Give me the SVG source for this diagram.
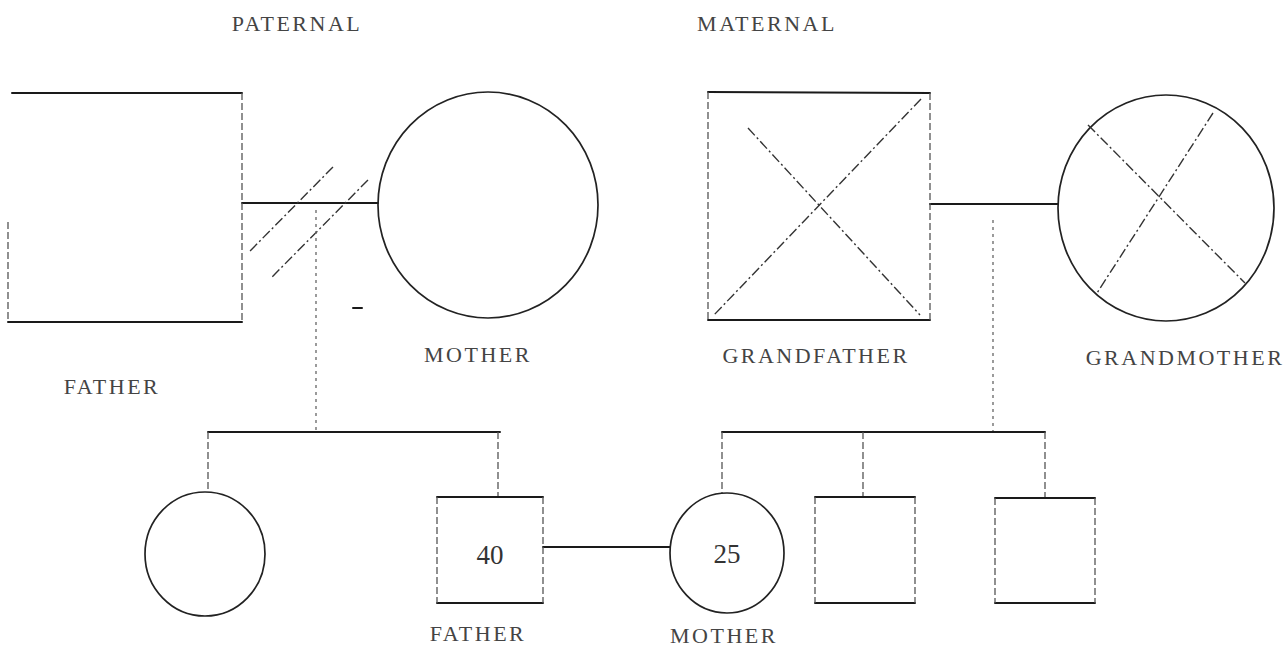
<svg xmlns="http://www.w3.org/2000/svg" width="1285" height="655" viewBox="0 0 1285 655">
<defs>
<style>
.h{stroke:#1a1a1a;stroke-width:2;fill:none;stroke-linecap:round}
.v{stroke:#555;stroke-width:1.3;fill:none;stroke-dasharray:7 3}
.d{stroke:#666;stroke-width:1.3;fill:none;stroke-dasharray:3 4}
.c{stroke:#222;stroke-width:1.7;fill:none}
.x{stroke:#333;stroke-width:1.4;fill:none;stroke-dasharray:10 3 2 3}
.t{font-family:"Liberation Serif","DejaVu Serif",serif;font-size:22px;fill:#444;letter-spacing:2.5px;text-anchor:middle}
.n{font-family:"Liberation Serif","DejaVu Serif",serif;font-size:27px;fill:#333;text-anchor:middle}
</style>
</defs>
<rect width="1285" height="655" fill="#fff"/>
<text class="t" x="297" y="31">PATERNAL</text>
<text class="t" x="767" y="31">MATERNAL</text>

<g id="connectors">
<line class="h" x1="242" y1="203" x2="378" y2="203"/>
<line class="x" x1="333" y1="167" x2="250" y2="251"/>
<line class="x" x1="368" y1="180" x2="272" y2="277"/>
<line class="d" x1="316" y1="210" x2="316" y2="430"/>
<line class="h" x1="208" y1="432" x2="500" y2="432"/>
<line class="v" x1="208" y1="432" x2="208" y2="492"/>
<line class="v" x1="498" y1="432" x2="498" y2="497"/>
<line class="h" x1="543" y1="547" x2="670" y2="547"/>
<line class="h" x1="930" y1="204" x2="1058" y2="204"/>
<line class="d" x1="993" y1="220" x2="993" y2="432"/>
<line class="h" x1="722" y1="432" x2="1045" y2="432"/>
<line class="v" x1="722" y1="432" x2="722" y2="493"/>
<line class="v" x1="863" y1="432" x2="863" y2="497"/>
<line class="v" x1="1045" y1="432" x2="1045" y2="497"/>
<line class="h" x1="353" y1="308" x2="362" y2="308"/>
</g>

<g id="paternal-father">
<line class="h" x1="12" y1="93" x2="242" y2="93"/>
<line class="h" x1="8" y1="322" x2="242" y2="322"/>
<line class="v" x1="242" y1="93" x2="242" y2="322"/>
<line class="v" x1="8" y1="222" x2="8" y2="322"/>
<text class="t" x="112" y="394">FATHER</text>
</g>

<g id="paternal-mother">
<ellipse class="c" cx="488" cy="205" rx="110" ry="113"/>
<text class="t" x="478" y="362">MOTHER</text>
</g>

<g id="maternal-grandfather">
<line class="h" x1="708" y1="92" x2="930" y2="93"/>
<line class="h" x1="708" y1="320" x2="930" y2="320"/>
<line class="v" x1="930" y1="93" x2="930" y2="320"/>
<line class="v" x1="708" y1="92" x2="708" y2="320"/>
<line class="x" x1="921" y1="99" x2="713" y2="316"/>
<line class="x" x1="748" y1="128" x2="920" y2="315"/>
<text class="t" x="816" y="363">GRANDFATHER</text>
</g>

<g id="maternal-grandmother">
<ellipse class="c" cx="1166" cy="208" rx="108" ry="113"/>
<line class="x" x1="1088" y1="125" x2="1245" y2="283"/>
<line class="x" x1="1213" y1="113" x2="1097" y2="293"/>
<text class="t" x="1185" y="365">GRANDMOTHER</text>
</g>

<g id="daughter">
<ellipse class="c" cx="205" cy="554" rx="60" ry="62"/>
</g>

<g id="father">
<line class="h" x1="437" y1="497" x2="543" y2="497"/>
<line class="h" x1="437" y1="603" x2="543" y2="603"/>
<line class="v" x1="437" y1="497" x2="437" y2="603"/>
<line class="v" x1="543" y1="497" x2="543" y2="603"/>
<text class="n" x="490" y="564">40</text>
<text class="t" x="478" y="641">FATHER</text>
</g>

<g id="mother">
<ellipse class="c" cx="727" cy="553" rx="57" ry="60"/>
<text class="n" x="727" y="563">25</text>
<text class="t" x="724" y="643">MOTHER</text>
</g>

<g id="son1">
<line class="h" x1="815" y1="497" x2="915" y2="497"/>
<line class="h" x1="815" y1="603" x2="915" y2="603"/>
<line class="v" x1="815" y1="497" x2="815" y2="603"/>
<line class="v" x1="915" y1="497" x2="915" y2="603"/>
</g>

<g id="son2">
<line class="h" x1="995" y1="498" x2="1095" y2="498"/>
<line class="h" x1="995" y1="603" x2="1095" y2="603"/>
<line class="v" x1="995" y1="498" x2="995" y2="603"/>
<line class="v" x1="1095" y1="498" x2="1095" y2="603"/>
</g>
</svg>
